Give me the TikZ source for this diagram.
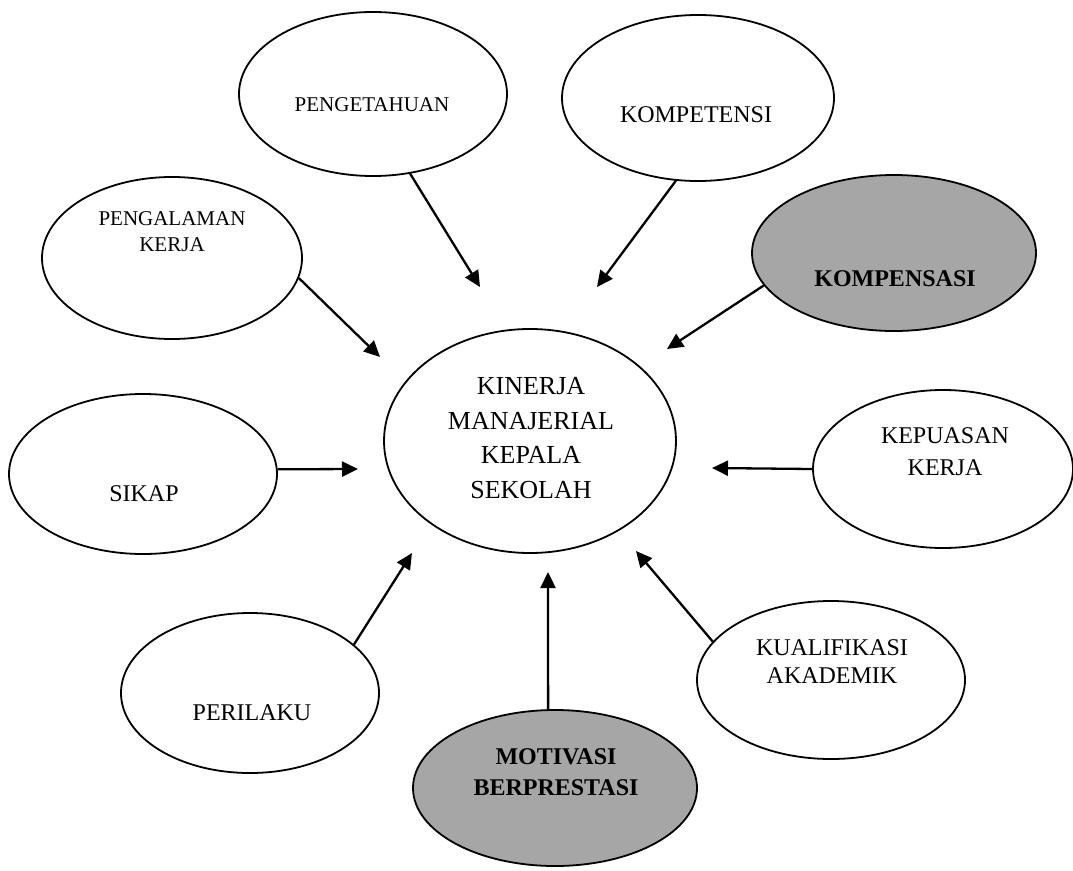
\documentclass[tikz,border=0pt]{standalone}
\usepackage{fontspec}
\setmainfont{Liberation Serif}
\usetikzlibrary{shapes.geometric}
\usetikzlibrary{arrows.meta}
\definecolor{bubblegray}{gray}{0.65}
\tikzset{bubble/.style={ellipse,draw,line width=1.8pt,inner sep=0pt},
  lbl/.style={align=center,inner sep=0pt,font=\fontsize{24}{31}\selectfont},
  flow/.style={line width=2.3pt,-{Triangle[length=16pt,width=15pt]}}}

\begin{document}
\begin{tikzpicture}[x=1pt,y=-1pt]
\useasboundingbox (0,0) rectangle (1073,870);
% ellipses
\node (kin) at (530,441) [bubble,minimum width=292pt,minimum height=224pt] {};
\node (tahu) at (373,94) [bubble,minimum width=268pt,minimum height=164pt] {};
\node (komp) at (698,98) [bubble,minimum width=272pt,minimum height=166pt] {};
\node (alam) at (172,258) [bubble,minimum width=260pt,minimum height=162pt] {};
\node (pens) at (894,253) [bubble,fill=bubblegray,minimum width=284pt,minimum height=156pt] {};
\node (sikap) at (143,474) [bubble,minimum width=268pt,minimum height=160pt] {};
\node (puas) at (943,469) [bubble,minimum width=260pt,minimum height=158pt] {};
\node (laku) at (250,693) [bubble,minimum width=258pt,minimum height=160pt] {};
\node (kual) at (831,680) [bubble,minimum width=268pt,minimum height=158pt] {};
\node (moti) at (555,788) [bubble,fill=bubblegray,minimum width=284pt,minimum height=156pt] {};
% texts
\node (kin-t) at (531,438) [lbl,font=\fontsize{26}{34.5}\selectfont] {KINERJA\\MANAJERIAL\\KEPALA\\SEKOLAH};
\node (tahu-t) at (372,105) [lbl,font=\fontsize{21}{26}\selectfont] {PENGETAHUAN};
\node (komp-t) at (696,115) [lbl] {KOMPETENSI};
\node (alam-t) at (172,232) [lbl,font=\fontsize{21}{26}\selectfont] {PENGALAMAN\\KERJA};
\node (pens-t) at (895,279) [lbl,font=\fontsize{24}{31}\selectfont\bfseries] {KOMPENSASI};
\node (sikap-t) at (144,494) [lbl] {SIKAP};
\node (puas-t) at (945,452) [lbl,font=\fontsize{24}{32}\selectfont] {KEPUASAN\\KERJA};
\node (laku-t) at (252,713) [lbl] {PERILAKU};
\node (kual-t) at (832,662) [lbl,font=\fontsize{24}{28}\selectfont] {KUALIFIKASI\\AKADEMIK};
\node (moti-t) at (556,772) [lbl,font=\fontsize{24}{31}\selectfont\bfseries] {MOTIVASI\\BERPRESTASI};
% arrow tips
\coordinate (t1) at (480,287);
\coordinate (t2) at (597,287);
\coordinate (t3) at (380,357);
\coordinate (t4) at (667,349);
\coordinate (t5) at (358,469);
\coordinate (t6) at (712,468);
\coordinate (t7) at (412,553);
\coordinate (t8) at (636,551);
\coordinate (t9) at (548,572);
\foreach \src/\ang/\tip in {tahu/295/t1, komp/255/t2, alam/351/t3, pens/194/t4,
  sikap/2/t5, puas/180/t6, laku/25.5/t7, kual/162/t8, moti/95/t9}
  \draw[flow] (\src.\ang) -- (\tip);
\end{tikzpicture}
\end{document}
